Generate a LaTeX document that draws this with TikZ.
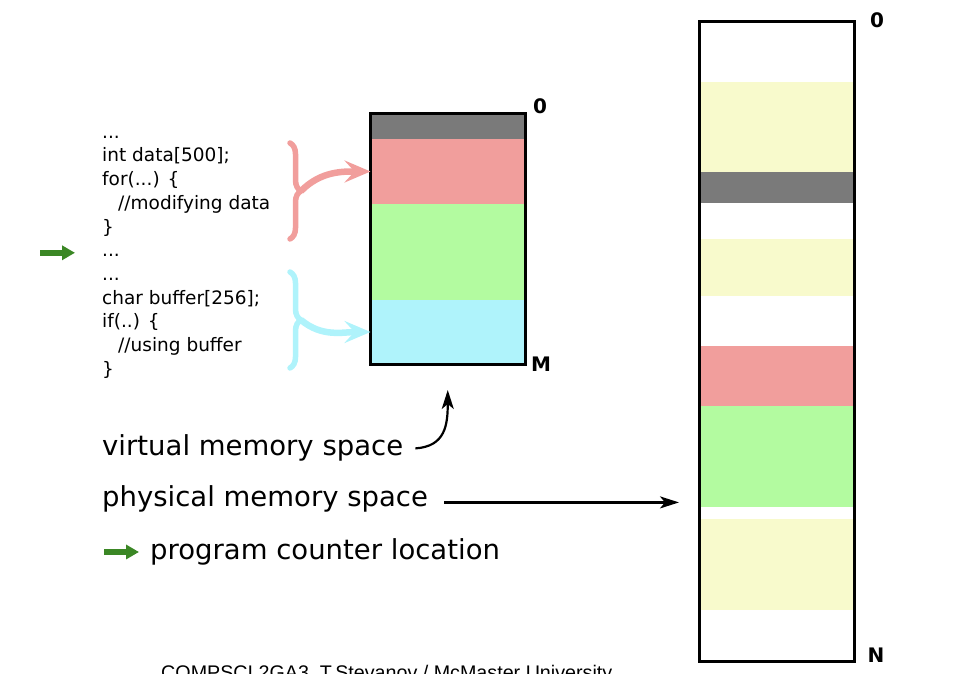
\documentclass[tikz,border=0pt]{standalone}
\usepackage{fontspec}
\setmainfont{DejaVu Sans}
\newfontfamily\footfont{Liberation Sans}
\usetikzlibrary{positioning,arrows.meta,decorations.pathreplacing}

\definecolor{memgray}{HTML}{7A7A7A}
\definecolor{datared}{HTML}{F19E9C}
\definecolor{freegreen}{HTML}{B3FBA0}
\definecolor{bufcyan}{HTML}{AFF3FB}
\definecolor{usedyellow}{HTML}{F8FACC}
\definecolor{pcgreen}{HTML}{3B8725}

\newcommand\codedots{...}

\tikzset{
  band/.style={anchor=north west,inner sep=0pt,outer sep=0pt,minimum width=#1},
  band/.default=155pt,
  memframe/.style={draw=black,line width=3pt,inner sep=0pt,outer sep=0pt,anchor=north west},
  codeline/.style={anchor=base west,inner sep=0pt,font=\fontsize{18.5}{22}\selectfont},
  legend/.style={anchor=base west,inner sep=0pt,font=\fontsize{27.5}{32}\selectfont},
  addr/.style={inner sep=0pt,font=\fontsize{20}{24}\selectfont\bfseries},
  pcarrow/.style={-{Triangle[length=13pt,width=14pt]},line width=5.5pt,draw=pcgreen},
  scopebrace/.style={line width=5.5pt,line cap=round,decorate,decoration={brace,amplitude=11pt}},
  scopearrow/.style={line width=6.5pt,-{Stealth[length=26pt,width=22pt,inset=10pt]}},
  labelarrow/.style={line width=2.2pt,-{Stealth[length=19pt,width=12pt,inset=5pt]}},
}

\begin{document}
\begin{tikzpicture}[x=1pt,y=1pt]
\useasboundingbox (0,0) rectangle (958,674);

% Code
  \foreach \ln [count=\i] in {\codedots,int data[500];,{for(\codedots) \{},{\hspace*{16pt}//modifying data},\},
      \codedots,\codedots,char buffer[256];,{if(..) \{},{\hspace*{16pt}//using buffer},\}}
    \node[codeline] (code\i) at (102,{535.7-23.7*(\i-1)}) {\ln};
  \draw[pcarrow] ([xshift=-62pt,yshift=4pt]code6.base west) -- ++(35pt,0);

% Virtual memory
  \node[band=154.5pt,fill=memgray,minimum height=24pt] (vtop) at (370.5,559) {};
  \node[band=154.5pt,fill=datared,minimum height=65pt] (vdata) at (370.5,535) {};
  \node[band=154.5pt,fill=freegreen,minimum height=96pt] (vfree) at (370.5,470) {};
  \node[band=154.5pt,fill=bufcyan,minimum height=64pt] (vbuf) at (370.5,374) {};
  \node[memframe,minimum width=154.5pt,minimum height=251.5pt] (vbox) at (370.5,560.5) {};
  \node[addr] (vzero) at ([xshift=15pt,yshift=7pt]vbox.north east) {0};
  \node[addr] (vend) at ([xshift=16pt,yshift=1pt]vbox.south east) {M};

% Scopes
  \draw[scopebrace,draw=datared] (290,531) -- (290,435);
  \coordinate (dtip) at (301,483);
  \draw[scopearrow,draw=datared] (dtip) to[out=45,in=180] (vdata.west);
  \draw[scopebrace,draw=bufcyan] (290,402) -- (290,306);
  \coordinate (btip) at (301,354);
  \draw[scopearrow,draw=bufcyan] (btip) to[out=-40,in=180] (vbuf.west);

% Physical memory
  \foreach \top/\h/\c in {592/90/usedyellow,502/31/memgray,435/57/usedyellow,
      328/60/datared,268/101/freegreen,155/91/usedyellow}
    \node[band,fill=\c,minimum height=\h pt] at (699,\top) {};
  \node[memframe,minimum width=155pt,minimum height=640pt] (pbox) at (699,652) {};
  \node[addr] (pzero) at ([xshift=23pt,yshift=2pt]pbox.north east) {0};
  \node[addr] (pend) at ([xshift=22pt,yshift=7pt]pbox.south east) {N};

% Legend
  \node[legend] (vlabel) at (102,218) {virtual memory space};
  \node[legend] (plabel) at (102,167) {physical memory space};
  \node[legend] (pclabel) at (150,114) {program counter location};
  \draw[labelarrow] ([xshift=12pt]vlabel.east) .. controls +(30,2) and +(0,-35) .. ([yshift=-25pt]vbox.south);
  \draw[labelarrow] ([xshift=16pt,yshift=-3pt]plabel.east) -- ([xshift=-20pt,yshift=-3pt]plabel.east -| pbox.west);
  \draw[pcarrow] ([xshift=-46pt,yshift=8pt]pclabel.base west) -- ++(35pt,0);

  \node[anchor=base west,inner sep=0pt,font=\footfont\fontsize{19.7}{24}\selectfont] (footer) at (161,-6)
    {COMPSCI 2GA3, T.Stevanov / McMaster University};

\end{tikzpicture}
\end{document}
